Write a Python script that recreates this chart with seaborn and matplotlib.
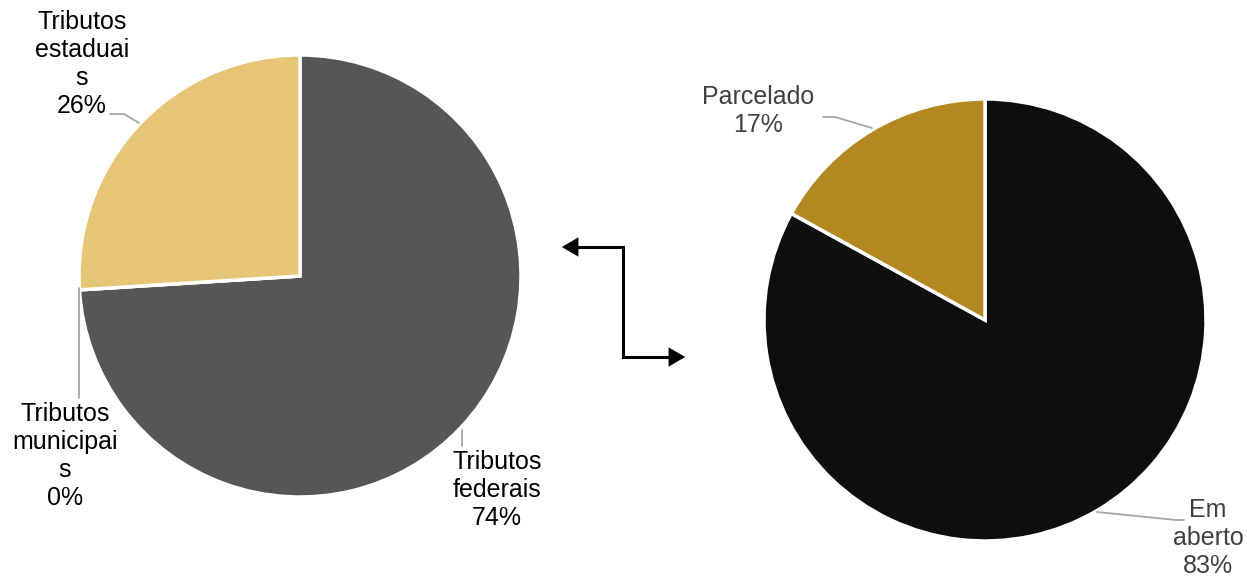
import matplotlib
matplotlib.use("Agg")
import matplotlib.pyplot as plt
import seaborn as sns

sns.set_theme(style="white")
plt.rcParams["font.family"] = ["Liberation Sans", "DejaVu Sans"]

# Distribution by tax sphere
tributos_labels = ["Tributos\nfederais", "Tributos\nmunicipai\ns", "Tributos\nestaduai\ns"]
tributos_values = [74, 0, 26]
tributos_colors = ["#565656", "#A0A0A0", "#E6C577"]

# Status of the debt
situacao_labels = ["Em\naberto", "Parcelado"]
situacao_values = [83, 17]
situacao_colors = ["#0E0E0E", "#B38821"]

W, H = 1247, 577
fig = plt.figure(figsize=(W / 100, H / 100), dpi=100)

R = 221  # pie radius in pixels
PAD = 232


def pie_axes(cx, cy):
    ax = fig.add_axes([(cx - PAD) / W, (H - cy - PAD) / H, 2 * PAD / W, 2 * PAD / H])
    return ax


def draw_pie(ax, values, colors):
    ax.pie(values, colors=colors, startangle=90, counterclock=False,
           wedgeprops=dict(edgecolor="white", linewidth=2.5))
    lim = PAD / R
    ax.set_xlim(-lim, lim)
    ax.set_ylim(-lim, lim)
    ax.set_aspect("equal")
    ax.axis("off")


ax_l = pie_axes(300, 276)
draw_pie(ax_l, tributos_values, tributos_colors)
ax_r = pie_axes(985, 320)
draw_pie(ax_r, situacao_values, situacao_colors)

# Overlay in pixel coordinates for labels, leader lines and the connector
ov = fig.add_axes([0, 0, 1, 1], facecolor="none")
ov.set_xlim(0, W)
ov.set_ylim(H, 0)
ov.axis("off")

FS = 18
LS = 1.2
lead = dict(color="#A6A6A6", lw=1.3)

# left pie labels
ov.text(82, 64, f"{tributos_labels[2]}\n{tributos_values[2]}%", ha="center", va="center",
        fontsize=FS, color="black", linespacing=LS)
ov.plot([110, 124, 139], [114, 114, 123], **lead)

ov.text(65, 456, f"{tributos_labels[1]}\n{tributos_values[1]}%", ha="center", va="center",
        fontsize=FS, color="black", linespacing=LS)
ov.plot([79, 79], [288, 398], **lead)

ov.text(497, 490, f"{tributos_labels[0]}\n{tributos_values[0]}%", ha="center", va="center",
        fontsize=FS, color="black", linespacing=LS)
ov.plot([462, 462], [430, 446], **lead)

# right pie labels
ov.text(758, 111, f"{situacao_labels[1]}\n{situacao_values[1]}%", ha="center", va="center",
        fontsize=FS, color="#404040", linespacing=LS)
ov.plot([823, 835, 872], [117, 117, 128], **lead)

ov.text(1208, 538, f"{situacao_labels[0]}\n{situacao_values[0]}%", ha="center", va="center",
        fontsize=FS, color="#404040", linespacing=LS)
ov.plot([1097, 1176, 1184], [512, 520, 520], **lead)

# elbow connector with arrowheads at both ends
ov.plot([572, 623, 623, 675], [247, 247, 357, 357], color="black", lw=2.2,
        solid_joinstyle="miter")
head = "-|>,head_length=1.0,head_width=0.58"
ov.annotate("", xy=(559, 247), xytext=(580, 247),
            arrowprops=dict(arrowstyle=head, color="black", lw=0))
ov.annotate("", xy=(688, 357), xytext=(667, 357),
            arrowprops=dict(arrowstyle=head, color="black", lw=0))

fig.savefig("out.png", dpi=100, facecolor="white")
